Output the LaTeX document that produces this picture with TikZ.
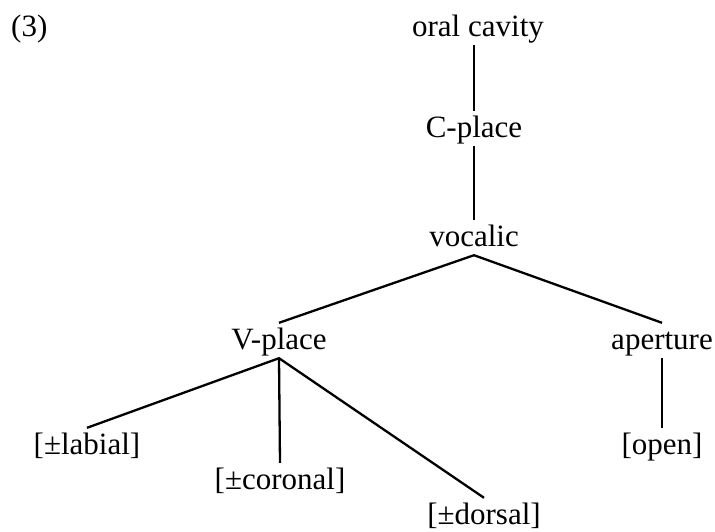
\documentclass[tikz,border=0pt]{standalone}
\usepackage{fontspec}
\setmainfont{Liberation Serif}
\usepackage{tikz}

\begin{document}
\begin{tikzpicture}[x=1pt,y=-1pt,
    feat/.style={font=\fontsize{31}{37}\selectfont, inner sep=0pt,
                 text height=26pt, text depth=9pt, anchor=base},
    branch/.style={line width=2.3pt}]
    \useasboundingbox (0,0) rectangle (715,531);
    \node[feat, anchor=base west] (num) at (11,36) {(3)};
    % the tree
    \node[feat] (oral) at (478,36) {oral cavity};
    \node[feat] (cplace) at (474,137) {C-place};
    \node[feat] (vocalic) at (474,246) {vocalic};
    \node[feat] (vplace) at (279,349) {V-place};
    \node[feat] (aperture) at (662,349) {aperture};
    \node[feat] (labial) at (87,454) {[±labial]};
    \node[feat] (coronal) at (280,489) {[±coronal]};
    \node[feat] (dorsal) at (484,524) {[±dorsal]};
    \node[feat] (open) at (662,454) {[open]};
    \draw[branch] (oral.south -| cplace) -- (cplace.north);
    \draw[branch] (cplace.south) -- (vocalic.north);
    \draw[branch] (vplace.north) -- (vocalic.south) -- (aperture.north);
    \draw[branch] (labial.north) -- (vplace.south) -- (dorsal.north);
    \draw[branch] (vplace.south) -- (coronal.north);
    \draw[branch] (aperture.south) -- (open.north);
\end{tikzpicture}
\end{document}
